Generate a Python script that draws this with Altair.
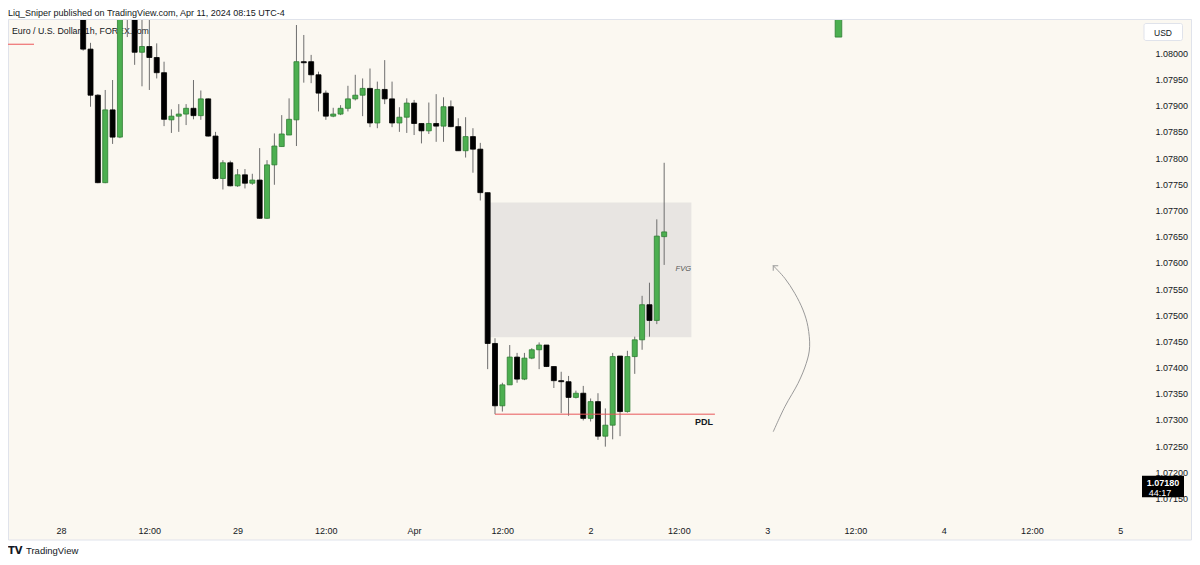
import altair as alt
import pandas as pd

# ---------------- data (EURUSD 1h) ----------------
# hour index: 0 = Mar 28 00:00 on the (weekend-compressed) TradingView time scale
hours = [3, 4, 5, 6, 7, 8, 9, 10, 11, 12,
         13, 14, 15, 16, 17, 18, 19, 20, 21, 22,
         23, 24, 25, 26, 27, 28, 29, 30, 31, 32,
         33, 34, 35, 36, 37, 38, 39, 40, 41, 42,
         43, 44, 45, 46, 47, 48, 49, 50, 51, 52,
         53, 54, 55, 56, 57, 58, 59, 60, 61, 62,
         63, 64, 65, 66, 67, 68, 69, 70, 71, 72,
         73, 74, 75, 76, 77, 78, 79, 80, 81, 82]

opens = [1.08110, 1.08008, 1.07920, 1.07753, 1.07892, 1.07840, 1.08100, 1.08080, 1.08002, 1.08013,
         1.07992, 1.07963, 1.07873, 1.07880, 1.07884, 1.07895, 1.07881, 1.07913, 1.07842, 1.07761,
         1.07791, 1.07747, 1.07768, 1.07752, 1.07758, 1.07685, 1.07787, 1.07822, 1.07844, 1.07873,
         1.07984, 1.07984, 1.07959, 1.07924, 1.07880, 1.07884, 1.07895, 1.07913, 1.07920, 1.07933,
         1.07867, 1.07931, 1.07913, 1.07867, 1.07878, 1.07905, 1.07866, 1.07852, 1.07866, 1.07861,
         1.07898, 1.07860, 1.07814, 1.07841, 1.07817, 1.07734, 1.07446, 1.07327, 1.07367, 1.07420,
         1.07378, 1.07418, 1.07434, 1.07443, 1.07402, 1.07375, 1.07373, 1.07343, 1.07351, 1.07303,
         1.07335, 1.07269, 1.07290, 1.07422, 1.07316, 1.07421, 1.07453, 1.07520, 1.07490, 1.07650]

highs = [1.08130, 1.08020, 1.07922, 1.07930, 1.07949, 1.08110, 1.08120, 1.08095, 1.08070, 1.08068,
         1.08019, 1.07984, 1.07893, 1.07903, 1.07903, 1.07949, 1.07929, 1.07914, 1.07850, 1.07796,
         1.07795, 1.07779, 1.07779, 1.07770, 1.07819, 1.07796, 1.07847, 1.07882, 1.07914, 1.08054,
         1.08035, 1.07997, 1.07965, 1.07929, 1.07896, 1.07901, 1.07938, 1.07959, 1.07952, 1.07971,
         1.07946, 1.07987, 1.07946, 1.07897, 1.07914, 1.07911, 1.07866, 1.07906, 1.07922, 1.07916,
         1.07910, 1.07876, 1.07878, 1.07857, 1.07829, 1.07734, 1.07456, 1.07371, 1.07443, 1.07428,
         1.07428, 1.07437, 1.07448, 1.07443, 1.07402, 1.07392, 1.07384, 1.07356, 1.07365, 1.07341,
         1.07351, 1.07322, 1.07428, 1.07422, 1.07432, 1.07459, 1.07537, 1.07562, 1.07683, 1.07791]

lows = [1.08005, 1.07898, 1.07752, 1.07752, 1.07827, 1.07838, 1.08031, 1.07978, 1.07937, 1.07930,
        1.07952, 1.07861, 1.07848, 1.07850, 1.07863, 1.07874, 1.07873, 1.07841, 1.07759, 1.07740,
        1.07746, 1.07745, 1.07742, 1.07749, 1.07684, 1.07684, 1.07749, 1.07822, 1.07844, 1.07823,
        1.07944, 1.07943, 1.07889, 1.07873, 1.07878, 1.07882, 1.07889, 1.07910, 1.07880, 1.07859,
        1.07857, 1.07903, 1.07859, 1.07850, 1.07848, 1.07844, 1.07828, 1.07846, 1.07831, 1.07831,
        1.07859, 1.07814, 1.07801, 1.07772, 1.07719, 1.07397, 1.07311, 1.07316, 1.07367, 1.07371,
        1.07376, 1.07416, 1.07397, 1.07401, 1.07361, 1.07313, 1.07308, 1.07341, 1.07299, 1.07297,
        1.07262, 1.07249, 1.07263, 1.07269, 1.07314, 1.07388, 1.07434, 1.07459, 1.07483, 1.07596]

closes = [1.08008, 1.07920, 1.07753, 1.07892, 1.07840, 1.08090, 1.08075, 1.08002, 1.08013, 1.07992,
          1.07963, 1.07874, 1.07880, 1.07884, 1.07895, 1.07881, 1.07913, 1.07842, 1.07761, 1.07791,
          1.07747, 1.07768, 1.07752, 1.07758, 1.07685, 1.07787, 1.07823, 1.07846, 1.07874, 1.07984,
          1.07982, 1.07959, 1.07924, 1.07880, 1.07884, 1.07895, 1.07913, 1.07920, 1.07933, 1.07867,
          1.07931, 1.07913, 1.07867, 1.07878, 1.07905, 1.07866, 1.07852, 1.07866, 1.07861, 1.07898,
          1.07860, 1.07814, 1.07841, 1.07817, 1.07734, 1.07446, 1.07327, 1.07367, 1.07420, 1.07378,
          1.07418, 1.07434, 1.07443, 1.07402, 1.07375, 1.07373, 1.07343, 1.07351, 1.07303, 1.07335,
          1.07269, 1.07290, 1.07421, 1.07316, 1.07421, 1.07453, 1.07520, 1.07490, 1.07651, 1.07659]

x_tick_hours = [0, 12, 24, 36, 48, 60, 72, 84, 96, 108, 120, 132, 144]
x_tick_labels = ["28", "12:00", "29", "12:00", "Apr", "12:00", "2", "12:00", "3",
                 "12:00", "4", "12:00", "5"]
price_ticks = [1.0715, 1.0720, 1.0725, 1.0730, 1.0735, 1.0740, 1.0745, 1.0750, 1.0755,
               1.0760, 1.0765, 1.0770, 1.0775, 1.0780, 1.0785, 1.0790, 1.0795, 1.0800]

# drawings
fvg_hours = [58.3, 85.7]
fvg_prices = [1.07458, 1.07715]
fvg_text_at = [84.6, 1.07588]
pdl_hours = [59.0, 88.9]
pdl_price = [1.07311]
pdl_text_at = [87.4, 1.07296]
arrow_hours = [96.83, 98.41, 100.20, 101.32, 101.78, 101.55, 100.88, 99.76, 98.41, 96.83]
arrow_prices = [1.072775, 1.073252, 1.073699, 1.074081, 1.074398, 1.07478, 1.075099,
                1.075418, 1.075704, 1.075945]
top_marker_hours = [105.25, 106.15]
top_marker_prices = [1.08031, 1.08110]
last_price = [1.07180]
last_price_text = ["1.07180"]
countdown_text = ["44:17"]

title_text = "Liq_Sniper published on TradingView.com, Apr 11, 2024 08:15 UTC-4"
legend_text = "Euro / U.S. Dollar, 1h, FOREX.com"

# ---------------- styling ----------------
FONT = "Liberation Sans"
TXT = "#131722"
PANE = "#fbf8f1"
BORDER = "#e0e3eb"
GREEN = "#4caf50"
GREEN_EDGE = "#2f7d33"
BLACK = "#000000"
WICK = "#6e6e6e"
W, H = 1137, 496
X_DOMAIN = [-6.54, 146.7]
Y_DOMAIN = [1.071166, 1.080636]

xs = alt.Scale(domain=X_DOMAIN, nice=False, zero=False)
ys = alt.Scale(domain=Y_DOMAIN, nice=False, zero=False)

label_expr = ""
for hv, lab in zip(x_tick_hours, x_tick_labels):
    label_expr += f"datum.value == {hv} ? '{lab}' : "
label_expr += "''"

x_axis = alt.Axis(values=x_tick_hours, labelExpr=label_expr, ticks=False, domain=False,
                  grid=False, labelFont=FONT, labelFontSize=9, labelColor=TXT,
                  labelPadding=10, title=None, labelFlush=False, labelOverlap=False)
y_axis = alt.Axis(values=price_ticks, format=".5f", orient="right", ticks=False,
                  domain=False, grid=False, labelFont=FONT, labelFontSize=9,
                  labelColor=TXT, labelPadding=10, title=None, labelFlush=False,
                  labelOverlap=False, labelSeparation=0)

one = pd.DataFrame({"k": [0]})

candles = pd.DataFrame({"x": hours, "o": opens, "h": highs, "l": lows, "c": closes})
candles["up"] = candles["c"] >= candles["o"]
candles["bot"] = candles[["o", "c"]].min(axis=1)
candles["top"] = candles[["o", "c"]].max(axis=1).combine(candles["bot"] + 0.00002, max)

# white strips above and below the pane (the canvas background is the pane colour)
header_bg = alt.Chart(one).mark_rect(fill="white").encode(
    x=alt.value(-1), x2=alt.value(W + 48), y=alt.value(-13), y2=alt.value(-1))
footer_bg = alt.Chart(one).mark_rect(fill="white").encode(
    x=alt.value(-1), x2=alt.value(W + 48), y=alt.value(H + 24), y2=alt.value(H + 42))
border = alt.Chart(one).mark_rect(fill="white", fillOpacity=0, stroke=BORDER,
                                  strokeWidth=1).encode(
    x=alt.value(0.5), x2=alt.value(W + 46.5), y=alt.value(-0.5), y2=alt.value(H + 24))

legend = alt.Chart(one).mark_text(text=legend_text, align="left", baseline="middle",
                                  font=FONT, fontSize=8.8, color=TXT).encode(
    x=alt.value(4), y=alt.value(11))
legend_line = alt.Chart(one).mark_rule(color="#f07b7b", strokeWidth=1.3).encode(
    x=alt.value(-1), x2=alt.value(26), y=alt.value(24.3))

fvg_df = pd.DataFrame({"x0": [fvg_hours[0]], "x1": [fvg_hours[1]],
                       "p0": [fvg_prices[0]], "p1": [fvg_prices[1]]})
fvg = alt.Chart(fvg_df).mark_rect(color="#e8e5e2").encode(
    x=alt.X("x0:Q", scale=xs, axis=x_axis), x2="x1:Q",
    y=alt.Y("p0:Q", scale=ys, axis=y_axis), y2="p1:Q")

wicks = alt.Chart(candles).mark_rule(color=WICK, strokeWidth=1, clip=True).encode(
    x=alt.X("x:Q", scale=xs, axis=x_axis), y=alt.Y("l:Q", scale=ys, axis=y_axis), y2="h:Q")
bodies = alt.Chart(candles).mark_bar(size=5, strokeWidth=0.8, clip=True).encode(
    x=alt.X("x:Q", scale=xs, axis=x_axis), y=alt.Y("bot:Q", scale=ys, axis=y_axis), y2="top:Q",
    fill=alt.condition("datum.up", alt.value(GREEN), alt.value(BLACK)),
    stroke=alt.condition("datum.up", alt.value(GREEN_EDGE), alt.value(BLACK)))

tm_df = pd.DataFrame({"x0": [top_marker_hours[0]], "x1": [top_marker_hours[1]],
                      "p0": [top_marker_prices[0]], "p1": [top_marker_prices[1]]})
top_marker = alt.Chart(tm_df).mark_rect(fill=GREEN, stroke=GREEN_EDGE, strokeWidth=0.8,
                                        clip=True).encode(
    x=alt.X("x0:Q", scale=xs, axis=x_axis), x2="x1:Q",
    y=alt.Y("p0:Q", scale=ys, axis=y_axis), y2="p1:Q")

pdl_df = pd.DataFrame({"x0": [pdl_hours[0]], "x1": [pdl_hours[1]], "p": pdl_price})
pdl = alt.Chart(pdl_df).mark_rule(color="#e8575a", strokeWidth=1).encode(
    x=alt.X("x0:Q", scale=xs, axis=x_axis), x2="x1:Q", y=alt.Y("p:Q", scale=ys, axis=y_axis))
pdl_t_df = pd.DataFrame({"x": [pdl_text_at[0]], "p": [pdl_text_at[1]]})
pdl_text = alt.Chart(pdl_t_df).mark_text(text="PDL", font=FONT, fontSize=9, fontWeight="bold",
                                         color=TXT, align="center", baseline="middle").encode(
    x=alt.X("x:Q", scale=xs, axis=x_axis), y=alt.Y("p:Q", scale=ys, axis=y_axis))

fvg_t_df = pd.DataFrame({"x": [fvg_text_at[0]], "p": [fvg_text_at[1]]})
fvg_text = alt.Chart(fvg_t_df).mark_text(text="FVG", font=FONT, fontSize=7.5, fontStyle="italic",
                                         color="#555555", align="center",
                                         baseline="middle").encode(
    x=alt.X("x:Q", scale=xs, axis=x_axis), y=alt.Y("p:Q", scale=ys, axis=y_axis))

arrow_df = pd.DataFrame({"i": list(range(len(arrow_hours))), "x": arrow_hours, "p": arrow_prices})
arrow = alt.Chart(arrow_df).mark_line(color="#9a9a9a", strokeWidth=1, interpolate="cardinal").encode(
    x=alt.X("x:Q", scale=xs, axis=x_axis), y=alt.Y("p:Q", scale=ys, axis=y_axis), order="i:O")
head_df = pd.DataFrame({"x": [arrow_hours[-1]], "p": [arrow_prices[-1]]})
arrow_head = alt.Chart(head_df).mark_point(shape="M -1 1 L 0 0 L 1 1", filled=False,
                                           stroke="#9a9a9a", strokeWidth=1, size=50,
                                           angle=315, opacity=1).encode(
    x=alt.X("x:Q", scale=xs, axis=x_axis), y=alt.Y("p:Q", scale=ys, axis=y_axis))

lp_df = pd.DataFrame({"p": last_price, "t": last_price_text, "cd": countdown_text})
lp_box = alt.Chart(lp_df).mark_rect(fill="#000000", yOffset=-7, y2Offset=14.5).encode(
    x=alt.value(W - 3), x2=alt.value(W + 39), y=alt.Y("p:Q", scale=ys, axis=y_axis), y2="p:Q")
lp_text = alt.Chart(lp_df).mark_text(font=FONT, fontSize=9, fontWeight="bold", color="white",
                                     align="center", baseline="middle").encode(
    x=alt.value(W + 18), y=alt.Y("p:Q", scale=ys, axis=y_axis), text="t:N")
cd_text = alt.Chart(lp_df).mark_text(font=FONT, fontSize=9, color="white", align="center",
                                     baseline="middle", dy=10).encode(
    x=alt.value(W + 15), y=alt.Y("p:Q", scale=ys, axis=y_axis), text="cd:N")

usd_box = alt.Chart(one).mark_rect(fill="white", stroke=BORDER, strokeWidth=1,
                                   cornerRadius=2).encode(
    x=alt.value(W - 1), x2=alt.value(W + 37.5), y=alt.value(3.5), y2=alt.value(20.5))
usd_text = alt.Chart(one).mark_text(text="USD", font=FONT, fontSize=8.5, color=TXT,
                                    align="center", baseline="middle").encode(
    x=alt.value(W + 18), y=alt.value(12.5))

title = alt.Chart(one).mark_text(text=title_text, font=FONT, fontSize=9, color=TXT,
                                 align="left", baseline="alphabetic").encode(
    x=alt.value(0), y=alt.value(-4.5))
logo = alt.Chart(one).mark_text(text="TV", font="DejaVu Sans", fontSize=10, fontWeight="bold",
                                color=TXT, align="left", baseline="middle").encode(
    x=alt.value(0), y=alt.value(H + 35))
footer = alt.Chart(one).mark_text(text="TradingView", font=FONT, fontSize=9.5, color=TXT,
                                  align="left", baseline="middle").encode(
    x=alt.value(18), y=alt.value(H + 35))

chart = alt.layer(
    fvg, header_bg, footer_bg, border, legend, legend_line, wicks, bodies, top_marker,
    pdl, pdl_text, fvg_text, arrow, arrow_head, lp_box, lp_text, cd_text, usd_box, usd_text,
    title, logo, footer
).properties(
    width=W, height=H,
    autosize=alt.AutoSizeParams(type="none"),
    padding={"left": 0, "top": 12, "right": 47, "bottom": 40},
).configure(background=PANE).configure_view(stroke=None).configure_axis(
    labelOverlap=False, labelSeparation=0
)

chart.save("out.html", embed_options={"renderer": "svg", "actions": False})
